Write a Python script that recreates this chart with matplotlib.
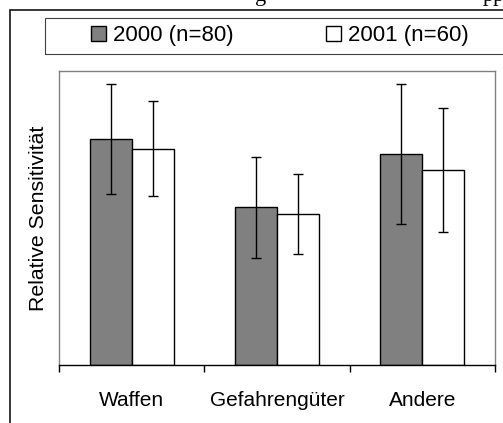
import matplotlib.pyplot as plt
from matplotlib.patches import Rectangle
import numpy as np

plt.rcParams["font.family"] = ["Liberation Sans", "DejaVu Sans"]

kategorien = ["Waffen", "Gefahrengüter", "Andere"]
jahre = ["2000 (n=80)", "2001 (n=60)"]
werte_2000 = [0.768, 0.537, 0.717]
werte_2001 = [0.736, 0.514, 0.662]
fehler_2000 = [0.188, 0.172, 0.239]
fehler_2001 = [0.162, 0.137, 0.211]

W, H = 503, 423
fig = plt.figure(figsize=(W / 100, H / 100), dpi=100)

# abgeschnittene Bildunterschrift oben
fig.text(255 / W, 1 - 1 / H, "g", family="Liberation Serif", fontsize=16, va="baseline")
fig.text(483 / W, 1 - 1 / H, "pp", family="Liberation Serif", fontsize=16, va="baseline")

# äusserer Rahmen (rechts und unten abgeschnitten)
fig.patches.append(Rectangle((10 / W, -0.1), 1.2, 1.1 - 10 / H, transform=fig.transFigure,
                             fill=False, edgecolor="black", linewidth=1.1))
# Legendenrahmen
fig.patches.append(Rectangle((45 / W, 1 - 54 / H), 1.0, 36 / H, transform=fig.transFigure,
                             fill=False, edgecolor="#404040", linewidth=0.8))

ax = fig.add_axes([59 / W, 1 - 365 / H, 436 / W, 294 / H])

x = np.arange(len(kategorien))
b = 0.29
bars1 = ax.bar(x - b / 2, werte_2000, b, color="#808080", edgecolor="black", linewidth=1.0,
               yerr=fehler_2000, error_kw=dict(ecolor="black", elinewidth=1.0, capsize=3.5, capthick=1.0),
               label=jahre[0])
bars2 = ax.bar(x + b / 2, werte_2001, b, color="white", edgecolor="black", linewidth=1.0,
               yerr=fehler_2001, error_kw=dict(ecolor="black", elinewidth=1.0, capsize=3.5, capthick=1.0),
               label=jahre[1])

ax.set_xlim(-0.5, 2.5)
ax.set_ylim(0, 1)
ax.set_yticks([])
ax.set_xticks(x)
ax.set_xticklabels(kategorien, fontsize=15)
ax.set_xticks([-0.5, 0.5, 1.5, 2.5], minor=True)
ax.tick_params(axis="x", which="major", length=0, pad=18.5)
ax.tick_params(axis="x", which="minor", length=5, width=1.0, direction="out")

for s in ["left", "top", "right"]:
    ax.spines[s].set_color("#808080")
    ax.spines[s].set_linewidth(1.0)
ax.spines["bottom"].set_color("black")
ax.spines["bottom"].set_linewidth(1.0)

ax.set_ylabel("Relative Sensitivität", fontsize=15.3)
ax.yaxis.set_label_coords(-0.025, 0.5)

fig.legend(handles=[bars1, bars2], labels=jahre, loc="center left",
           bbox_to_anchor=(91 / W, 1 - 36 / H), ncol=2, frameon=False, fontsize=16,
           handlelength=0.68, handleheight=0.68, handletextpad=0.32, columnspacing=4.15,
           borderaxespad=0, borderpad=0)

fig.savefig("out.png", dpi=100)
